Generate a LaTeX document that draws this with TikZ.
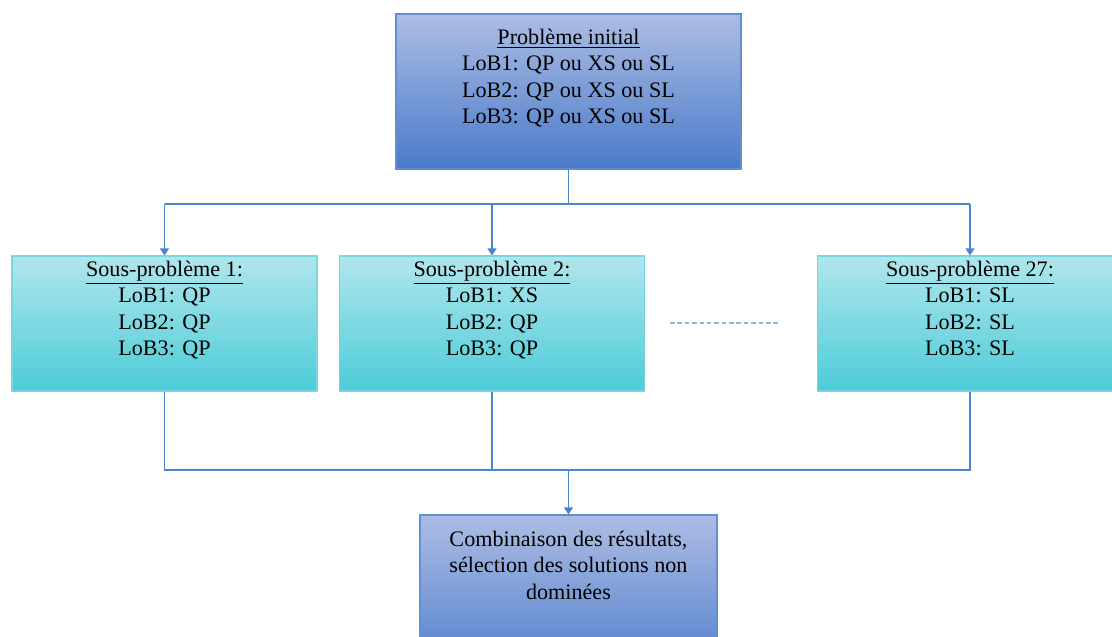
\documentclass[tikz,border=0pt]{standalone}
\usepackage{fontspec}
\setmainfont{Liberation Serif}
\usetikzlibrary{positioning,arrows.meta}

\definecolor{bluetop}{RGB}{172,189,228}
\definecolor{bluebot}{RGB}{74,122,201}
\definecolor{blueedge}{RGB}{98,142,214}
\definecolor{cyantop}{RGB}{176,230,236}
\definecolor{cyanbot}{RGB}{76,204,216}
\definecolor{cyanedge}{RGB}{120,214,224}
\definecolor{linkblue}{RGB}{74,134,204}
\definecolor{dotblue}{RGB}{150,180,226}

\tikzset{
    initbox/.style = {draw = blueedge, line width = 0.6pt, top color = bluetop,
        bottom color = bluebot, minimum width = 6.9cm, minimum height = 3.1cm, inner sep = 0pt},
    subbox/.style = {draw = cyanedge, line width = 0.6pt, top color = cyantop,
        bottom color = cyanbot, minimum width = 6.1cm, minimum height = 2.7cm, inner sep = 0pt},
    txt/.style = {align = center, inner sep = 0pt, font = \fontsize{12.6}{15.1}\selectfont},
    link/.style = {draw = linkblue, line width = 1.1pt},
    linkarrow/.style = {link, -{Triangle[width = 5pt, length = 4pt]}}
}

\begin{document}
\begin{tikzpicture}
        \useasboundingbox (0,0) rectangle (22.24,-12.74);
        \fill[white] (0,0) rectangle (22.24,-12.74);
        
        % boxes
        \node[initbox] (init) at (11.37,-1.83) {};
        \node[subbox] (sub1) at (3.29,-6.47) {};
        \node[subbox] (sub2) at (9.84,-6.47) {};
        \node[subbox] (sub27) at (19.4,-6.47) {};
        \node[initbox, minimum width = 5.94cm, minimum height = 3.4cm] (comb) at (11.37,-12) {};
        
        % texts
        \node[txt, below = 0.3cm of init.north] (initT)
            {\underline{Problème initial}\\ LoB1: QP ou XS ou SL\\ LoB2: QP ou XS ou SL\\ LoB3: QP ou XS ou SL};
        \node[txt, below = 0.1cm of sub1.north] (sub1T)
            {\underline{Sous-problème 1:}\\ LoB1: QP\\ LoB2: QP\\ LoB3: QP};
        \node[txt, below = 0.1cm of sub2.north] (sub2T)
            {\underline{Sous-problème 2:}\\ LoB1: XS\\ LoB2: QP\\ LoB3: QP};
        \node[txt, below = 0.1cm of sub27.north] (sub27T)
            {\underline{Sous-problème 27:}\\ LoB1: SL\\ LoB2: SL\\ LoB3: SL};
        \node[txt, below = 0.32cm of comb.north] (combT)
            {Combinaison des résultats,\\ sélection des solutions non\\ dominées};
        
        % connectors
        \coordinate (split) at (11.37,-4.08);
        \coordinate (join) at (11.37,-9.4);
        \draw[link] (init.south) -- (split);
        \draw[link] (split -| sub1) -- (split -| sub27);
        \draw[linkarrow] (split -| sub1) -- (sub1.north);
        \draw[linkarrow] (split -| sub2) -- (sub2.north);
        \draw[linkarrow] (split -| sub27) -- (sub27.north);
        
        \draw[link] (sub1.south) -- (join -| sub1) -- (join -| sub27) -- (sub27.south);
        \draw[link] (sub2.south) -- (join -| sub2);
        \draw[linkarrow] (join) -- (comb.north);
        
        \draw[dotblue, line width = 0.7pt, dash pattern = on 2.6pt off 1.6pt]
        (13.4,-6.46) -- (15.58,-6.46);
    \end{tikzpicture}
\end{document}
